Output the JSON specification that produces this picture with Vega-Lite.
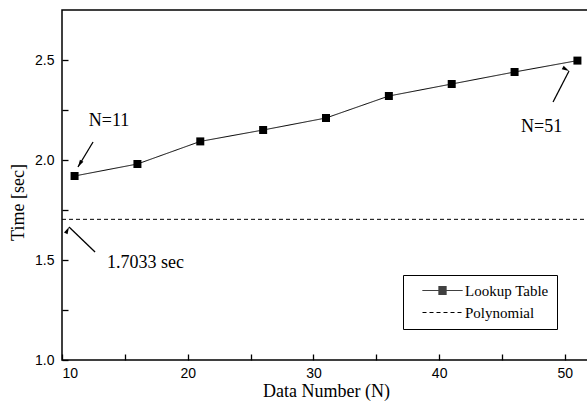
{
  "$schema": "https://vega.github.io/schema/vega-lite/v6.json",
  "width": 528,
  "height": 350,
  "autosize": {"type": "none"},
  "padding": {"left": 62, "top": 10, "right": 0, "bottom": 49},
  "background": "white",
  "config": {
    "view": {"stroke": "black", "strokeWidth": 1.5},
    "axis": {
      "grid": false,
      "domain": false,
      "tickColor": "black",
      "tickWidth": 1.3,
      "tickSize": 6,
      "offset": -6,
      "labelColor": "black",
      "labelFont": "Liberation Sans",
      "labelFontSize": 14,
      "titleColor": "black",
      "titleFont": "Liberation Serif",
      "titleFontSize": 18,
      "titleFontWeight": "normal"
    }
  },
  "datasets": {
    "series": [
      {"series": "Lookup Table", "n": 11, "t": 1.92},
      {"series": "Lookup Table", "n": 16, "t": 1.98},
      {"series": "Lookup Table", "n": 21, "t": 2.093},
      {"series": "Lookup Table", "n": 26, "t": 2.15},
      {"series": "Lookup Table", "n": 31, "t": 2.21},
      {"series": "Lookup Table", "n": 36, "t": 2.32},
      {"series": "Lookup Table", "n": 41, "t": 2.38},
      {"series": "Lookup Table", "n": 46, "t": 2.44},
      {"series": "Lookup Table", "n": 51, "t": 2.497},
      {"series": "Polynomial", "n": 10, "t": 1.7033},
      {"series": "Polynomial", "n": 52, "t": 1.7033}
    ],
    "notes": [
      {"label": "N=11", "tx": 13.74, "ty": 2.195},
      {"label": "N=51", "tx": 48.15, "ty": 2.165},
      {"label": "1.7033 sec", "tx": 16.64, "ty": 1.485}
    ],
    "arrows": [
      {"label": "N=11", "end": 0, "x": 12.47, "y": 2.09},
      {"label": "N=11", "end": 1, "x": 11.27, "y": 1.965},
      {"label": "N=51", "end": 0, "x": 49.06, "y": 2.29},
      {"label": "N=51", "end": 1, "x": 50.33, "y": 2.445},
      {"label": "1.7033 sec", "end": 0, "x": 12.63, "y": 1.54},
      {"label": "1.7033 sec", "end": 1, "x": 10.56, "y": 1.665}
    ]
  },
  "layer": [
    {
      "data": {"name": "series"},
      "mark": {"type": "line", "color": "black", "strokeWidth": 1},
      "encoding": {
        "x": {
          "field": "n", "type": "quantitative",
          "scale": {"domain": [10, 52], "nice": false, "zero": false},
          "axis": {
            "title": "Data Number (N)",
            "values": [10, 15, 20, 25, 30, 35, 40, 45, 50],
            "labelExpr": "datum.value % 10 === 0 ? datum.label : ''",
            "labelPadding": 6,
            "titlePadding": 2
          }
        },
        "y": {
          "field": "t", "type": "quantitative",
          "scale": {"domain": [1.0, 2.75], "nice": false, "zero": false},
          "axis": {
            "title": "Time [sec]",
            "values": [1.0, 1.25, 1.5, 1.75, 2.0, 2.25, 2.5],
            "format": ".1f",
            "labelExpr": "(datum.value * 2) % 1 === 0 ? datum.label : ''",
            "labelPadding": 8,
            "titleY": 192,
            "titleX": -41
          }
        },
        "strokeDash": {
          "field": "series", "type": "nominal",
          "scale": {"domain": ["Lookup Table", "Polynomial"], "range": [[1, 0], [4, 3]]},
          "legend": {
            "title": null,
            "orient": "none",
            "legendX": 341,
            "legendY": 265,
            "strokeColor": "black",
            "padding": 8,
            "fillColor": "white",
            "symbolSize": 100,
            "symbolStrokeWidth": 1,
            "symbolStrokeColor": "black",
            "labelFont": "Liberation Serif",
            "labelFontSize": 15,
            "labelColor": "black",
            "labelOffset": 39,
            "rowPadding": 6
          }
        }
      }
    },
    {
      "data": {"name": "series"},
      "transform": [{"filter": "false"}],
      "mark": {"type": "point", "filled": false, "color": "black", "strokeWidth": 1, "opacity": 1},
      "encoding": {
        "x": {"field": "n", "type": "quantitative"},
        "y": {"field": "t", "type": "quantitative"},
        "shape": {
          "field": "series", "type": "nominal",
          "scale": {
            "domain": ["Lookup Table", "Polynomial"],
            "range": [
              "M0.8,0H8.8M4,-0.8H5.6M4,-0.6H5.6M4,-0.4H5.6M4,-0.2H5.6M4,0.2H5.6M4,0.4H5.6M4,0.6H5.6M4,0.8H5.6",
              "M0.8,0H8.8"
            ]
          },
          "legend": {
            "title": null,
            "orient": "none",
            "legendX": 341,
            "legendY": 265,
            "strokeColor": "black",
            "padding": 8,
            "fillColor": "white",
            "symbolSize": 100,
            "symbolStrokeWidth": 1,
            "symbolStrokeColor": "black",
            "labelFont": "Liberation Serif",
            "labelFontSize": 15,
            "labelColor": "black",
            "labelOffset": 39,
            "rowPadding": 6
          }
        }
      }
    },
    {
      "data": {"name": "series"},
      "transform": [{"filter": "datum.series === 'Lookup Table'"}],
      "mark": {"type": "point", "shape": "square", "filled": true, "color": "black", "size": 64, "opacity": 1},
      "encoding": {
        "x": {"field": "n", "type": "quantitative"},
        "y": {"field": "t", "type": "quantitative"}
      }
    },
    {
      "data": {"name": "arrows"},
      "mark": {"type": "line", "color": "black", "strokeWidth": 1.3},
      "encoding": {
        "x": {"field": "x", "type": "quantitative"},
        "y": {"field": "y", "type": "quantitative"},
        "detail": {"field": "label"},
        "order": {"field": "end", "type": "quantitative"}
      }
    },
    {
      "data": {"name": "arrows"},
      "transform": [{"filter": "datum.end === 1"}],
      "mark": {"type": "point", "shape": "M0,0L0.5,1.8L-0.5,1.8Z", "filled": true, "color": "black", "size": 64, "opacity": 1},
      "encoding": {
        "x": {"field": "x", "type": "quantitative"},
        "y": {"field": "y", "type": "quantitative"},
        "angle": {
          "field": "label", "type": "nominal",
          "scale": {"domain": ["N=11", "N=51", "1.7033 sec"], "range": [211, 27, 314]},
          "legend": null
        }
      }
    },
    {
      "data": {"name": "notes"},
      "mark": {"type": "text", "font": "Liberation Serif", "fontSize": 18, "color": "black", "baseline": "middle", "align": "center"},
      "encoding": {
        "x": {"field": "tx", "type": "quantitative"},
        "y": {"field": "ty", "type": "quantitative"},
        "text": {"field": "label"}
      }
    }
  ]
}
